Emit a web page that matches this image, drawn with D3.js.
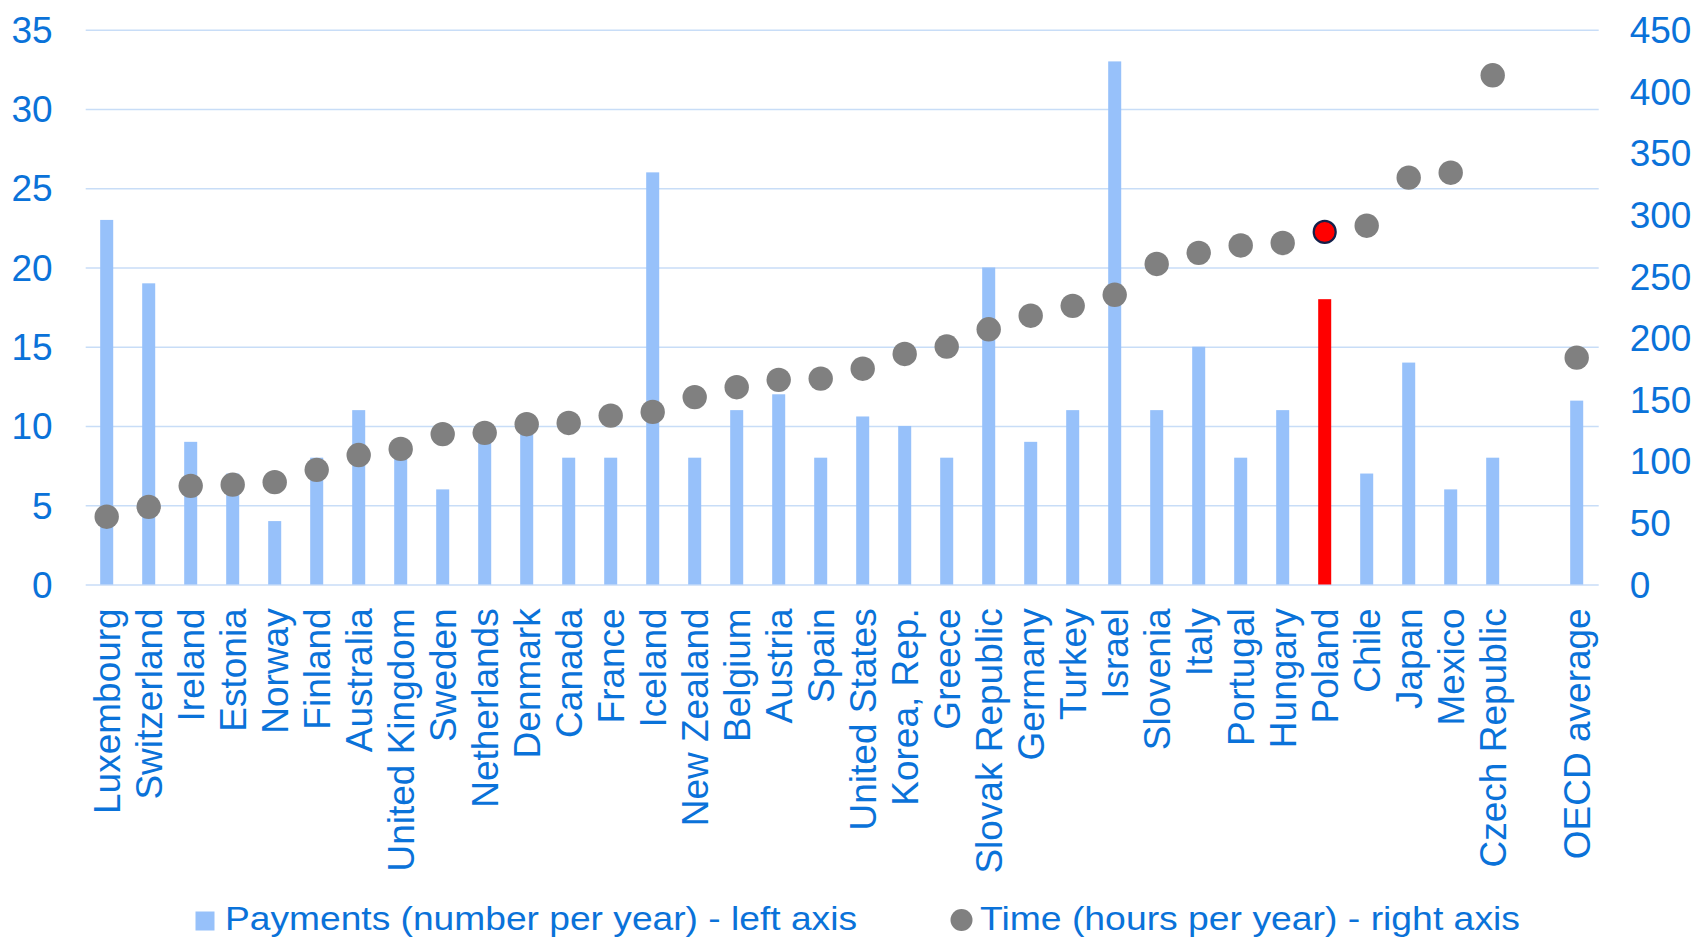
<!DOCTYPE html>
<html>
<head>
<meta charset="utf-8">
<script src="https://cdn.jsdelivr.net/npm/d3@7"></script>
<style>
  html, body { margin: 0; padding: 0; background: #ffffff; }
  svg { display: block; }
  text { font-family: "Liberation Sans", Arial, sans-serif; }
</style>
</head>
<body>
<svg id="chart" width="1696" height="939"></svg>
<script>
// ---- data ----
const countries = ["Luxembourg", "Switzerland", "Ireland", "Estonia", "Norway", "Finland", "Australia",
  "United Kingdom", "Sweden", "Netherlands", "Denmark", "Canada", "France", "Iceland", "New Zealand",
  "Belgium", "Austria", "Spain", "United States", "Korea, Rep.", "Greece", "Slovak Republic", "Germany",
  "Turkey", "Israel", "Slovenia", "Italy", "Portugal", "Hungary", "Poland", "Chile", "Japan", "Mexico",
  "Czech Republic", "", "OECD average"];
const payments = [23, 19, 9, 7, 4, 8, 11, 8, 6, 9, 10, 8, 8, 26, 8, 11, 12, 8, 10.6, 10, 8, 20, 9, 11, 33,
  11, 15, 8, 11, 18, 7, 14, 6, 8, null, 11.6];
const hours = [55, 63, 80, 81, 83, 93, 105, 110, 122, 123, 130, 131, 137, 140, 152, 160, 166, 167, 175, 187,
  193, 207, 218, 226, 235, 260, 269, 275, 277, 286, 291, 330, 334, 413, null, 184];
const leftTicks = [0, 5, 10, 15, 20, 25, 30, 35];
const rightTicks = [0, 50, 100, 150, 200, 250, 300, 350, 400, 450];
const highlight = "Poland";
const legendLabels = ["Payments (number per year) - left axis", "Time (hours per year) - right axis"];

// ---- styles ----
const BLUE_TEXT = "#0a72d9";
const BAR = "#97c1fa";
const GRID = "#c8ddf7";
const DOT = "#808080";
const RED = "#ff0000";
const FS = 37;

const svg = d3.select("#chart");
const pLeft = 85.7, pRight = 1597.7, pTop = 29.7, pBottom = 584.5;

const slotKeys = countries.map((c, i) => c === "" ? "__gap" + i : c);
const x = d3.scaleBand().domain(slotKeys).range([pLeft, pRight]).paddingInner(0.69).paddingOuter(0.345);
const yL = d3.scaleLinear().domain([0, 35]).range([pBottom, pTop]);
const yR = d3.scaleLinear().domain([0, 450]).range([pBottom, pTop]);

// gridlines
const grid = svg.append("g").attr("transform", `translate(${pLeft},0)`)
  .call(d3.axisLeft(yL).tickValues(leftTicks).tickSize(-(pRight - pLeft + 1)).tickFormat(""));
grid.select(".domain").remove();
grid.selectAll(".tick line").attr("stroke", GRID).attr("stroke-width", 1.4);

// left axis labels
const ax = svg.append("g").attr("transform", `translate(${pLeft},0)`)
  .call(d3.axisLeft(yL).tickValues(leftTicks).tickSize(0).tickPadding(33));
ax.select(".domain").remove();
ax.selectAll("text").attr("fill", BLUE_TEXT).style("font-size", FS + "px").attr("dy", "0.345em");

// right axis labels
const axR = svg.append("g").attr("transform", `translate(${pRight},0)`)
  .call(d3.axisRight(yR).tickValues(rightTicks).tickSize(0).tickPadding(32));
axR.select(".domain").remove();
axR.selectAll("text").attr("fill", BLUE_TEXT).style("font-size", FS + "px").attr("dy", "0.345em");

// bottom axis (category labels)
const axB = svg.append("g").attr("transform", `translate(0,${pBottom})`)
  .call(d3.axisBottom(x).tickSize(0).tickFormat((d, i) => countries[i]));
axB.select(".domain").remove();
axB.selectAll("text")
  .attr("fill", BLUE_TEXT).style("font-size", FS + "px")
  .attr("transform", "rotate(-90)")
  .attr("x", -23.8).attr("y", 12.8).attr("dy", 0)
  .style("text-anchor", "end");

// bars
const rows = slotKeys.map((k, i) => ({ key: k, name: countries[i], p: payments[i], h: hours[i] }));
svg.append("g").selectAll("rect")
  .data(rows.filter(d => d.p != null))
  .join("rect")
  .attr("x", d => x(d.key))
  .attr("width", x.bandwidth())
  .attr("y", d => yL(d.p))
  .attr("height", d => yL(0) - yL(d.p))
  .attr("fill", d => d.name === highlight ? RED : BAR);

// dots
svg.append("g").selectAll("circle")
  .data(rows.filter(d => d.h != null))
  .join("circle")
  .attr("cx", d => x(d.key) + x.bandwidth() / 2)
  .attr("cy", d => yR(d.h))
  .attr("r", d => d.name === highlight ? 11 : 12.2)
  .attr("fill", d => d.name === highlight ? RED : DOT)
  .attr("stroke", d => d.name === highlight ? "#14204a" : "none")
  .attr("stroke-width", d => d.name === highlight ? 2.2 : 0);

// legend
const lg = svg.append("g");
lg.append("rect").attr("x", 195.5).attr("y", 911.5).attr("width", 19).attr("height", 19).attr("fill", BAR);
lg.append("text").attr("x", 225).attr("y", 929.5).text(legendLabels[0])
  .attr("fill", BLUE_TEXT).style("font-size", "34px")
  .attr("textLength", 632).attr("lengthAdjust", "spacingAndGlyphs");
lg.append("circle").attr("cx", 961.5).attr("cy", 920).attr("r", 11).attr("fill", DOT);
lg.append("text").attr("x", 980).attr("y", 929.5).text(legendLabels[1])
  .attr("fill", BLUE_TEXT).style("font-size", "34px")
  .attr("textLength", 540).attr("lengthAdjust", "spacingAndGlyphs");
</script>
</body>
</html>
